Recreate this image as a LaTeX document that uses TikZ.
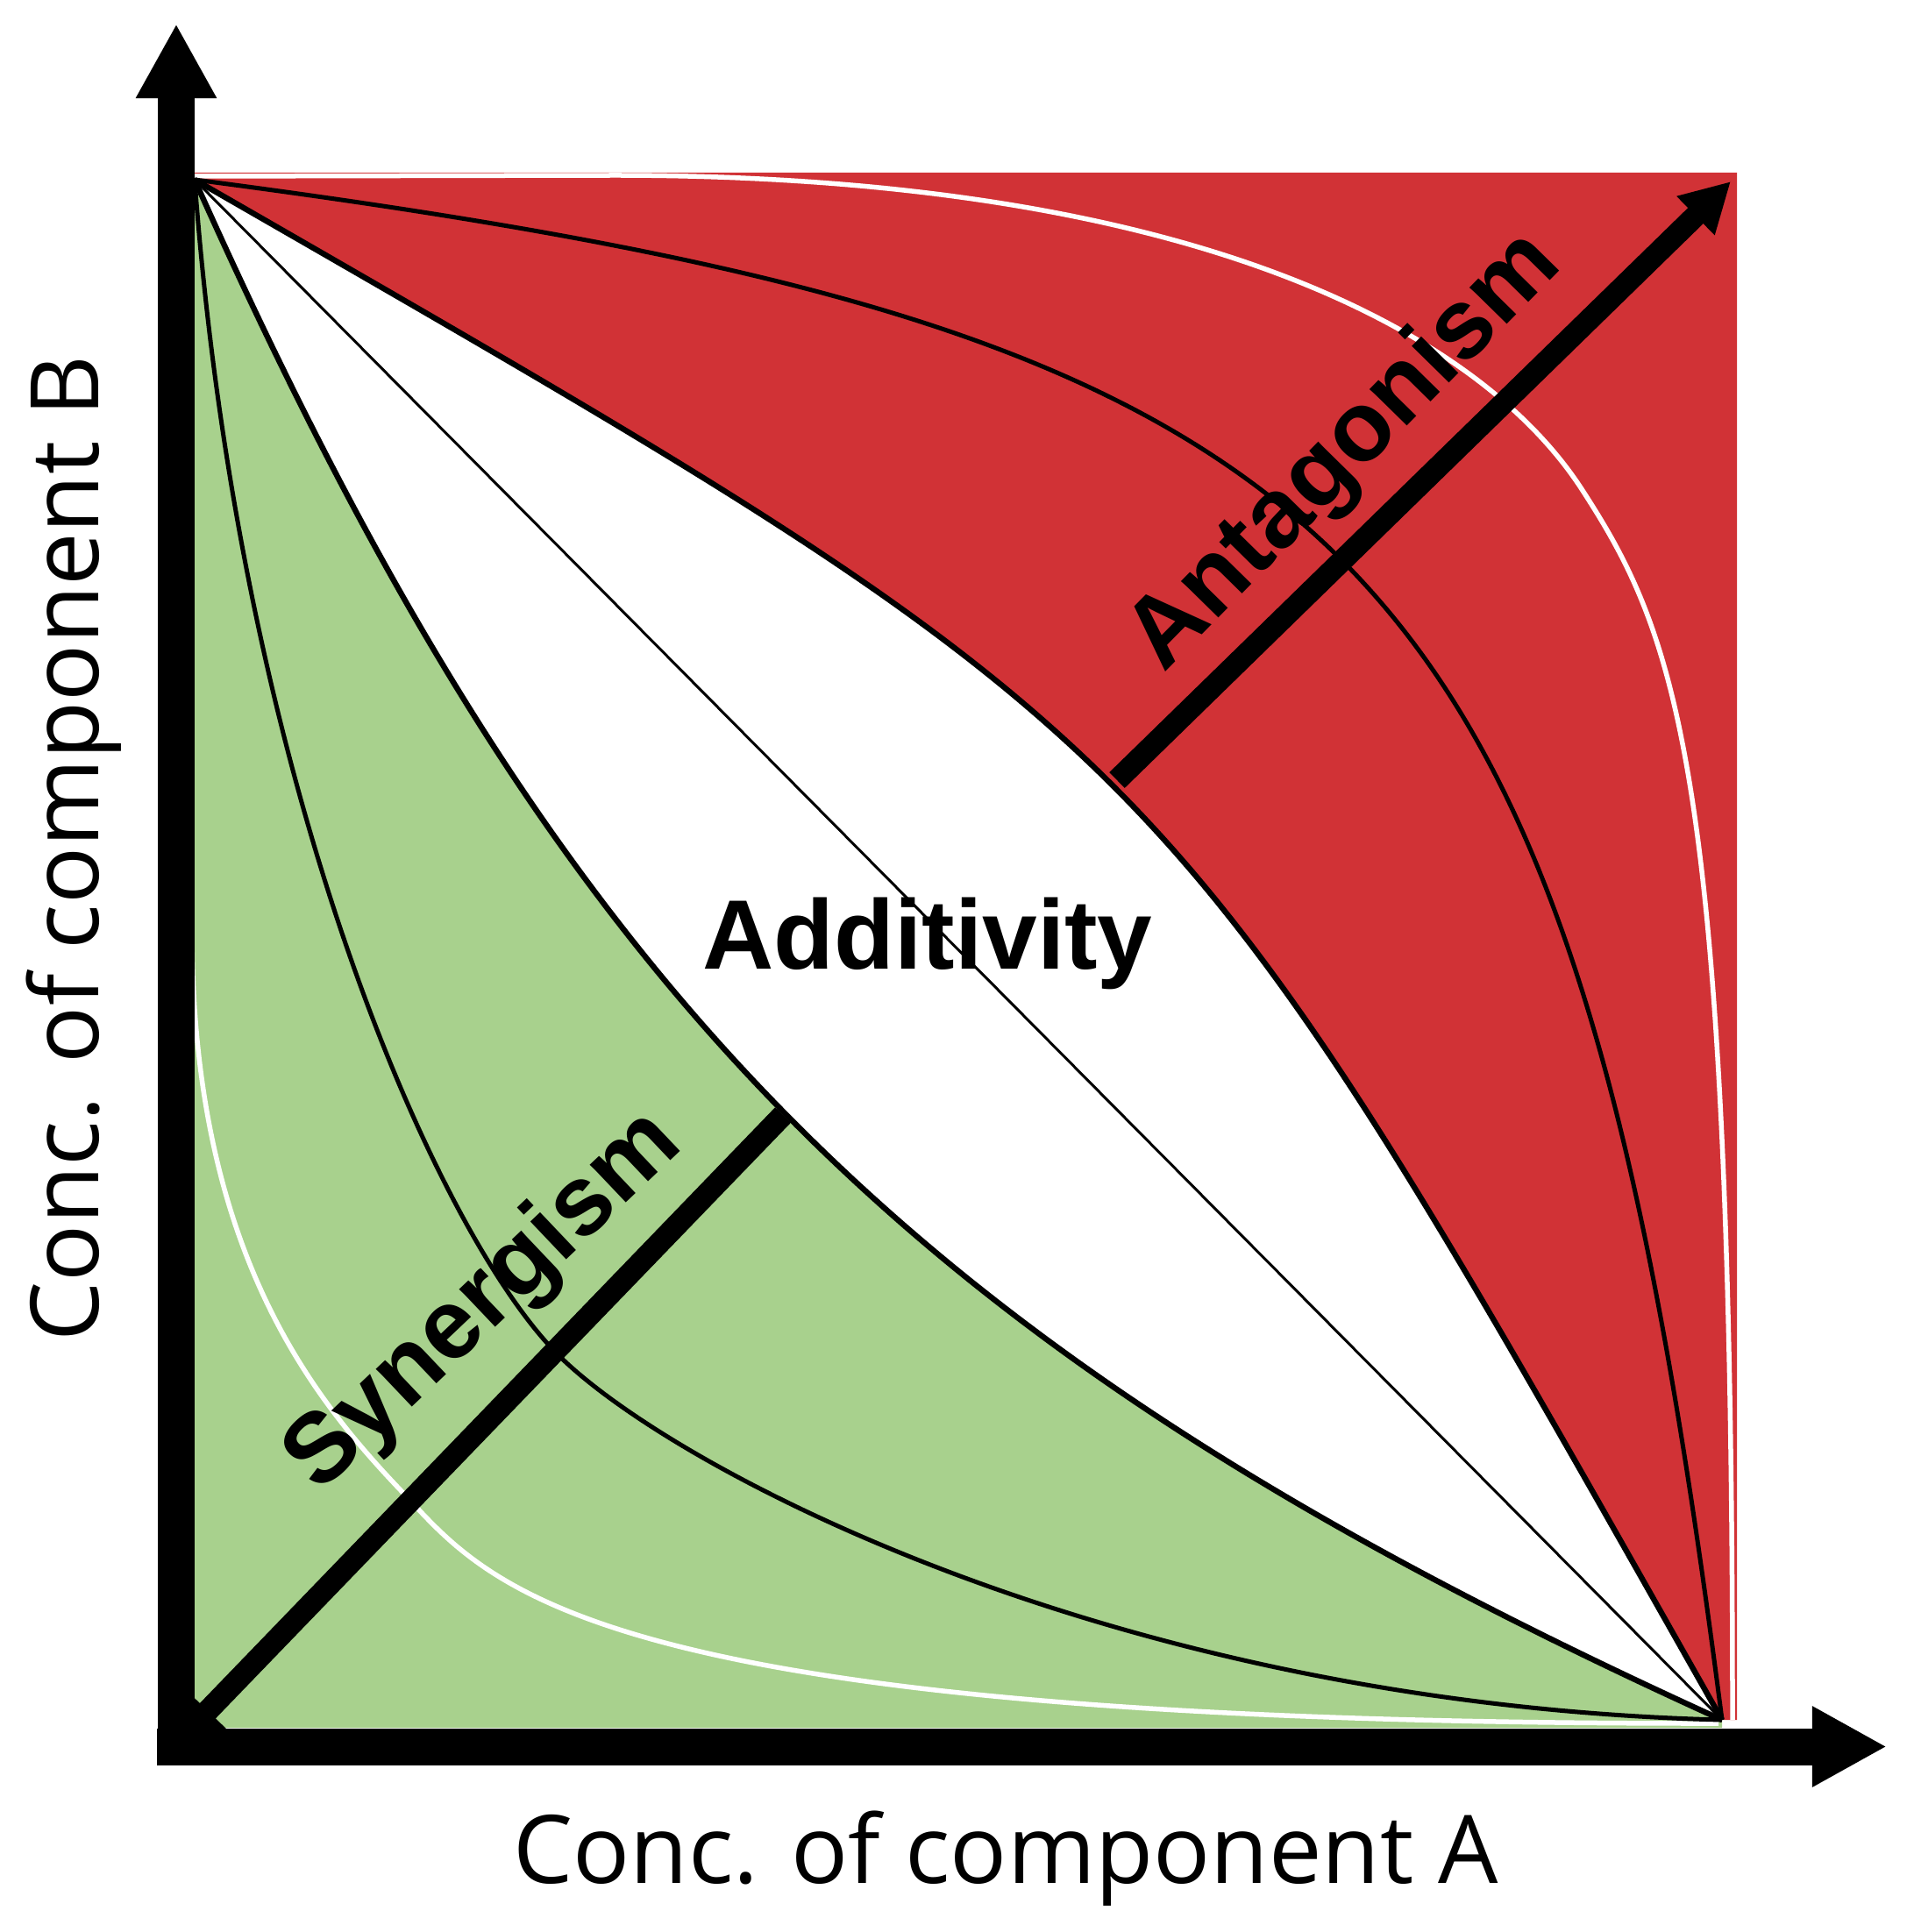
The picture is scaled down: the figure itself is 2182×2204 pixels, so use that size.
\documentclass[tikz,border=0pt]{standalone}
\usepackage{fontspec}
\setmainfont{Open Sans}
\newfontfamily\labfont{Liberation Sans}
\usetikzlibrary{arrows.meta}
\definecolor{antred}{RGB}{209,50,54}
\definecolor{syngreen}{RGB}{168,209,141}
\begin{document}
\begin{tikzpicture}[x=0.01cm,y=-0.01cm,
  boundcurve/.style={line width=0.064cm, black},
  innercurve/.style={line width=0.05cm, black},
  whitecurve/.style={line width=0.055cm, white},
  diagline/.style={line width=0.03cm, black},
  axisarrow/.style={line width=0.42cm, -{Triangle[length=0.85cm,width=0.86cm]}},
  effectarrow/.style={line width=0.25cm, -{Triangle[length=0.56cm,width=0.58cm]}},
  boldlabel/.style={font=\labfont\bfseries\fontsize{32pt}{38pt}\selectfont, inner sep=0pt},
  axislabel/.style={font=\fontsize{30.7pt}{36pt}\selectfont, inner sep=0pt}
]
\useasboundingbox (0,0) rectangle (2182,2204);
\fill[white] (0,0) rectangle (2182,2204);

\coordinate (P0) at (222,205);
\coordinate (P1) at (1964,1962);

% regions
\fill[antred] (222,197) -- (1981,197) -- (1981,1962) -- (P1)
  .. controls (1322.9,828.7) and (1345.6,851.6) .. (P0) -- cycle;
\fill[syngreen] (P0) .. controls (640.1,1141.5) and (1035.5,1540.3) .. (P1)
  -- (1964,1971) -- (222,1971) -- cycle;

% white curves
\draw[whitecurve] (222,201) -- (700,200) .. controls (1350,200) and (1684.3,373.4) .. (1804,558)
  .. controls (1912.8,725.8) and (1976,880) .. (1976,1962);
\draw[whitecurve] (219,1060) .. controls (219,1420) and (351.7,1589) .. (455,1698)
  .. controls (558.4,1806.8) and (650,1967) .. (1960,1966);

% black curves
\draw[innercurve] (P0) .. controls (1566.8,380.7) and (1789.8,605.6) .. (P1);
\draw[innercurve] (P0) .. controls (274.3,907.8) and (500.7,1408.5) .. (635.7,1544.7)
  .. controls (762,1672.1) and (1267.2,1944.4) .. (P1);
\draw[boundcurve] (P0) .. controls (1345.6,851.6) and (1322.9,828.7) .. (P1);
\draw[boundcurve] (P0) .. controls (640.1,1141.5) and (1035.5,1540.3) .. (P1);
\draw[diagline] (P0) -- (P1);

% effect arrows
\coordinate (antS) at (1274,890);
\coordinate (antT) at (1974,207);
\draw[effectarrow] (antS) -- (antT);
\coordinate (synS) at (893,1272);
\coordinate (synT) at (198,1992);
\draw[effectarrow] (synS) -- (synT);

% axes
\coordinate (ybot) at (201,2014);
\coordinate (ytop) at (201,27);
\coordinate (xleft) at (179,1992.5);
\coordinate (xright) at (2152,1992.5);
\draw[axisarrow] (ybot) -- (ytop);
\draw[axisarrow] (xleft) -- (xright);

% labels
\node[boldlabel, anchor=base] (add) at (1058,1105.6) {Additivity};
\node[boldlabel, rotate=45.5] (ant) at (1535,516) {Antagonism};
\node[boldlabel, rotate=43.5] (syn) at (553,1486) {Synergism};
\node[axislabel, anchor=base] (xl) at (1147,2148) {Conc. of component A};
\node[axislabel, anchor=base, rotate=90] (yl) at (112,968) {Conc. of component B};
\end{tikzpicture}
\end{document}
